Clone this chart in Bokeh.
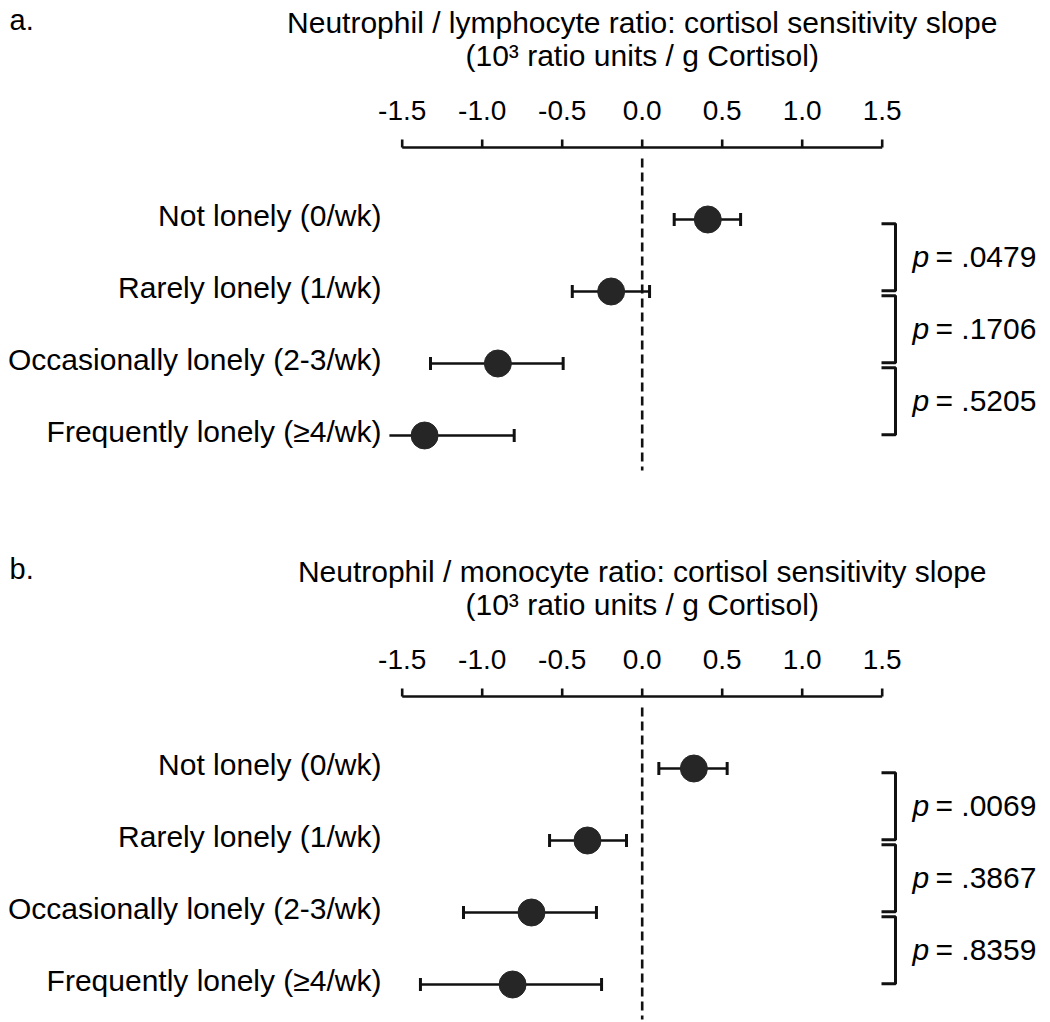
from bokeh.plotting import figure
from bokeh.layouts import column
from bokeh.models import Range1d
from bokeh.core.properties import value
from bokeh.embed import file_html
from bokeh.resources import INLINE

# ---------------- data ----------------
categories = ["Not lonely (0/wk)", "Rarely lonely (1/wk)",
              "Occasionally lonely (2-3/wk)", "Frequently lonely (\u22654/wk)"]
ticks = [-1.5, -1.0, -0.5, 0.0, 0.5, 1.0, 1.5]
tick_labels = ["-1.5", "-1.0", "-0.5", "0.0", "0.5", "1.0", "1.5"]

a_letter = "a."
a_title = ["Neutrophil / lymphocyte ratio: cortisol sensitivity slope",
           "(10\u00b3 ratio units / g Cortisol)"]
a_est = [0.41, -0.194, -0.902, -1.36]
a_lo = [0.20, -0.437, -1.323, -1.58]
a_hi = [0.615, 0.046, -0.494, -0.80]
a_p = [".0479", ".1706", ".5205"]

b_letter = "b."
b_title = ["Neutrophil / monocyte ratio: cortisol sensitivity slope",
           "(10\u00b3 ratio units / g Cortisol)"]
b_est = [0.323, -0.342, -0.692, -0.81]
b_lo = [0.104, -0.579, -1.117, -1.386]
b_hi = [0.531, -0.098, -0.286, -0.254]
b_p = [".0069", ".3867", ".8359"]

# ---------------- layout constants ----------------
W = 1050
PXX = 160.0          # px per x unit
ZERO_X = 641.7       # local x of value 0
ROW = 72.0           # px per row
ROW0 = 219.0         # local y of first row
TSHIFT = -11.5       # text baseline correction (px)
FONT = value("Liberation Sans")
INK = "#111111"
LW = 2.6


def py(n):
    return n / ROW


def ty(n):
    return (n + TSHIFT) / ROW


def px(n):
    return n / PXX


def make_panel(letter, title, est, lo, hi, pvals, height):
    x0 = -ZERO_X / PXX
    x1 = (W - ZERO_X) / PXX
    p = figure(width=W, height=height, output_backend="svg", toolbar_location=None,
               x_range=Range1d(x0, x1),
               y_range=Range1d((height - ROW0) / ROW, -ROW0 / ROW),
               x_axis_location=None, y_axis_location=None,
               min_border=0, min_border_left=0, min_border_right=0,
               min_border_top=0, min_border_bottom=0)
    p.grid.visible = False
    p.outline_line_color = None
    p.background_fill_color = "white"
    p.border_fill_color = "white"

    rows = list(range(len(categories)))
    yax = -1.0

    # axis line + ticks
    p.segment(x0=[ticks[0]], y0=[yax], x1=[ticks[-1]], y1=[yax],
              line_color=INK, line_width=LW)
    p.segment(x0=ticks, y0=[yax] * len(ticks), x1=ticks,
              y1=[yax - py(8)] * len(ticks), line_color=INK, line_width=LW)
    p.text(x=ticks, y=[yax + ty(-26)] * len(ticks), text=tick_labels,
           text_font=FONT, text_font_size="28px", text_align="center",
           text_baseline="alphabetic", text_color="black")

    # axis title
    p.text(x=[0.0, 0.0], y=[yax + ty(-114), yax + ty(-81)], text=title,
           text_font=FONT, text_font_size="30px", text_align="center",
           text_baseline="alphabetic", text_color="black")
    # panel letter
    p.text(x=[x0 + px(9)], y=[yax + ty(-116)], text=[letter],
           text_font=FONT, text_font_size="29px", text_align="left",
           text_baseline="alphabetic", text_color="black")

    # zero reference line
    p.line(x=[0, 0], y=[yax + py(11), rows[-1] + py(35)], line_color=INK,
           line_width=LW, line_dash="9 5")

    # category labels
    p.text(x=[px(381 - ZERO_X)] * len(rows), y=[r + ty(7) for r in rows],
           text=categories, text_font=FONT, text_font_size="30px",
           text_align="right", text_baseline="alphabetic", text_color="black")

    # error bars
    p.segment(x0=lo, y0=rows, x1=hi, y1=rows, line_color=INK, line_width=LW)
    cap_x, cap_y = [], []
    for r, a, b in zip(rows, lo, hi):
        for v in (a, b):
            if ticks[0] <= v <= ticks[-1]:
                cap_x.append(v)
                cap_y.append(r)
    p.segment(x0=cap_x, y0=[c - py(6.5) for c in cap_y], x1=cap_x,
              y1=[c + py(6.5) for c in cap_y], line_color=INK, line_width=LW + 0.4)

    # points
    p.scatter(x=est, y=rows, size=27, marker="circle",
              fill_color="#262626", line_color="#262626")

    # brackets with p values
    bx = px(895 - ZERO_X)
    bl = px(881 - ZERO_X)
    for i, pv in enumerate(pvals):
        top = i + 0.06
        bot = i + 0.99
        p.line(x=[bl, bx, bx, bl], y=[top, top, bot, bot], line_color=INK,
               line_width=LW + 0.4)
        mid = (top + bot) / 2 + ty(10.5)
        p.text(x=[px(912 - ZERO_X)], y=[mid], text=["p"], text_font=FONT,
               text_font_size="30px", text_font_style="italic",
               text_align="left", text_baseline="alphabetic", text_color="black")
        p.text(x=[px(935 - ZERO_X)], y=[mid], text=["= " + pv], text_font=FONT,
               text_font_size="30px", text_align="left",
               text_baseline="alphabetic", text_color="black")
    return p


pa = make_panel(a_letter, a_title, a_est, a_lo, a_hi, a_p, 549)
pb = make_panel(b_letter, b_title, b_est, b_lo, b_hi, b_p, 473)

layout = column(pa, pb, spacing=0)
open("out.html", "w").write(file_html(layout, INLINE))
